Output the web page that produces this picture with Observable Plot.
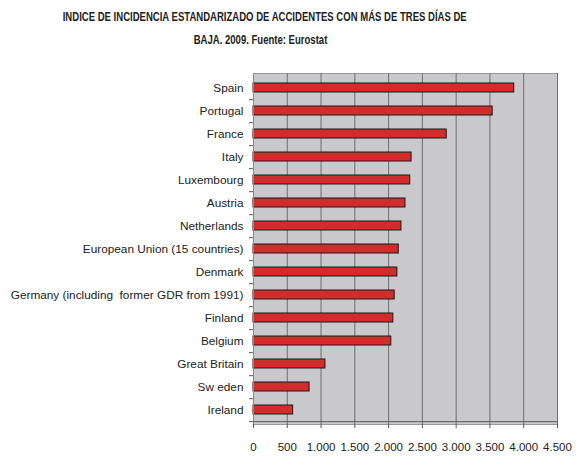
<!DOCTYPE html>
<html>
<head>
<meta charset="utf-8">
<script src="https://cdn.jsdelivr.net/npm/d3@7"></script>
<script src="https://cdn.jsdelivr.net/npm/@observablehq/plot@0.6"></script>
<style>
  body { margin: 0; background: #fff; }
  #title { height: 52px; box-sizing: border-box; padding-top: 6px; text-align: center;
    font-family: "Liberation Sans", Arial, sans-serif;
    font-weight: bold; font-size: 12.5px; line-height: 23px; color: #222; width: 522px; }
  #title span { display: inline-block; white-space: nowrap; transform-origin: center; }
  #chart { line-height: 0; }
</style>
</head>
<body>
<div id="title"><span id="t1">INDICE DE INCIDENCIA ESTANDARIZADO DE ACCIDENTES CON MÁS DE TRES DÍAS DE</span><br><span id="t2">BAJA. 2009. Fuente: Eurostat</span></div>
<div id="chart"></div>
<script>
const countries = ["Spain", "Portugal", "France", "Italy", "Luxembourg", "Austria", "Netherlands",
  "European Union (15 countries)", "Denmark", "Germany (including  former GDR from 1991)",
  "Finland", "Belgium", "Great Britain", "Sw eden", "Ireland"];
const values = [3860, 3540, 2860, 2340, 2320, 2250, 2190, 2150, 2130, 2090, 2070, 2040, 1065, 830, 587];
const xTicks = [0, 500, 1000, 1500, 2000, 2500, 3000, 3500, 4000, 4500];

// narrow title lettering (reference uses a condensed face)
const t1 = document.getElementById("t1"), t2 = document.getElementById("t2");
const s = 404 / t1.getBoundingClientRect().width;
t1.style.transform = `scaleX(${s})`;
t2.style.transform = `scaleX(${s})`;

const data = countries.map((c, i) => ({country: c, value: values[i]}));
const fmt = d3.formatLocale({thousands: ".", grouping: [3], decimal: ","}).format(",");

const W = 580, H = 415, mt = 21, mb = 43, ml = 253, mr = 23;
const step = (H - mt - mb) / countries.length;

const chart = Plot.plot({
  width: W, height: H,
  marginTop: mt, marginBottom: mb, marginLeft: ml, marginRight: mr,
  style: {fontFamily: "'Liberation Sans', Arial, sans-serif", fontSize: "11.8px", color: "#222", background: "#fff"},
  x: {domain: [0, 4500], ticks: xTicks, tickFormat: fmt, label: null},
  y: {domain: countries, padding: 0.62, paddingOuter: 0.31, label: null},
  marks: [
    Plot.frame({fill: "#c9c9cb", stroke: "#999"}),
    Plot.ruleX(xTicks, {stroke: "#6e6e6e", strokeWidth: 1}),
    Plot.barX(data, {x: "value", y: "country", fill: "#d22c2c", stroke: "#1a1a1a", strokeWidth: 1}),
    Plot.axisY({tickSize: 0, tickPadding: 10, fontSize: 11.8, fill: "#222"}),
    Plot.axisY({tickSize: 4, text: null, stroke: "#555", dy: step / 2}),
    Plot.ruleX([0], {stroke: "#888"}),
    Plot.ruleY([0], {y: () => countries[countries.length - 1], dy: step / 2, stroke: "#555", x1: 0, x2: 4500}),
    Plot.axisX({ticks: xTicks, tickFormat: fmt, tickSize: 4, tickPadding: 14, stroke: "#555", fill: "#222", fontSize: 11.5})
  ]
});
document.getElementById("chart").appendChild(chart);
</script>
</body>
</html>
